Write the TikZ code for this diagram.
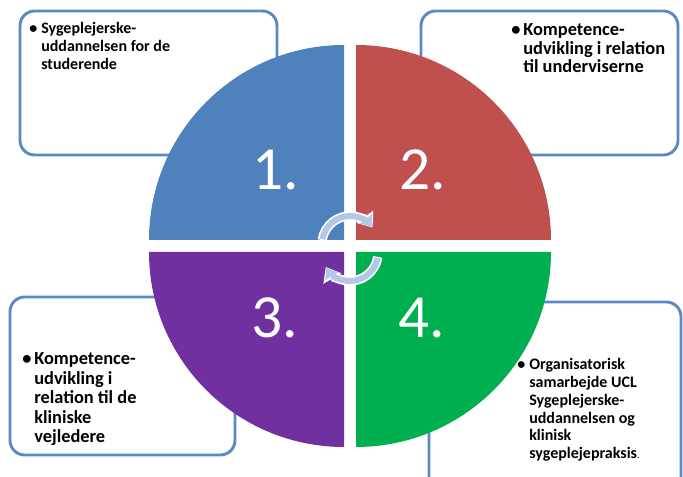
\documentclass[tikz,border=0pt]{standalone}
\usepackage{fontspec}
\setmainfont{Carlito}
\usetikzlibrary{arrows.meta}
\definecolor{quadblue}{HTML}{4F81BD}
\definecolor{quadred}{HTML}{C0504D}
\definecolor{quadpurple}{HTML}{7030A0}
\definecolor{quadgreen}{HTML}{00B050}
\definecolor{boxline}{HTML}{5A8AC6}
\definecolor{turncol}{HTML}{B4C7E7}
\newcommand{\pnt}[1]{\makebox[9pt][l]{\textbullet}\begin{tabular}[t]{@{}l@{}}#1\end{tabular}}

\begin{document}
\begin{tikzpicture}[x=0.75pt,y=0.75pt,
  box/.style={draw=boxline,line width=2.2pt,rounded corners=11pt},
  num/.style={text=white,inner sep=0pt,font=\fontsize{46}{46}\selectfont},
  txt/.style={anchor=base west,inner sep=0pt},
  txtbig/.style={txt,font=\bfseries\fontsize{13.8}{#1}\selectfont},
  txtsmall/.style={txt,font=\bfseries\fontsize{12}{#1}\selectfont},
  turnback/.style={draw=white,line width=7pt,-{Triangle[width=15pt,length=10pt]}},
  turn/.style={draw=turncol,line width=4.5pt,-{Triangle[width=11pt,length=7.5pt]}}]
\useasboundingbox (0,0) rectangle (683,477);
\clip (0,0) rectangle (683,477);
\draw[box] (20,322) rectangle (277,466);
\draw[box] (421,322) rectangle (678,466);
\draw[box] (10,22) rectangle (235,180);
\draw[box] (429,-30) rectangle (681,175);
\fill[quadblue] (344,237) -- (149,237) arc (180:90:195) -- cycle;
\fill[quadred] (356,237) -- (356,432) arc (90:0:195) -- cycle;
\fill[quadpurple] (344,225) -- (344,30) arc (270:180:195) -- cycle;
\fill[quadgreen] (356,225) -- (551,225) arc (0:-90:195) -- cycle;
\node[num] (n1) at (276,307) {1.};
\node[num] (n2) at (423,307) {2.};
\node[num] (n3) at (275,159) {3.};
\node[num] (n4) at (422,159) {4.};
\path[turnback] (350,233) ++(172:28) arc (172:36:28);
\path[turn] (350,233) ++(170:28) arc (170:38:28);
\path[turnback] (350,224) ++(-8:28) arc (-8:-150:28);
\path[turn] (350,224) ++(-10:28) arc (-10:-148:28);
\node[txtsmall=13.3pt] (t1) at (29,443) {\pnt{Sygeplejerske-\\uddannelsen for de\\studerende}};
\node[txtbig=13.5pt] (t2) at (511,441) {\pnt{Kompetence-\\udvikling i relation\\til underviserne}};
\node[txtbig=14.6pt] (t3) at (22,112) {\pnt{Kompetence-\\udvikling i\\relation til de\\kliniske\\vejledere}};
\node[txtsmall=13.3pt] (t4) at (517,107) {\pnt{Organisatorisk\\samarbejde UCL\\Sygeplejerske-\\uddannelsen og\\klinisk\\sygeplejepraksis{\mdseries\fontsize{8}{8}\selectfont.}}};
\end{tikzpicture}
\end{document}
